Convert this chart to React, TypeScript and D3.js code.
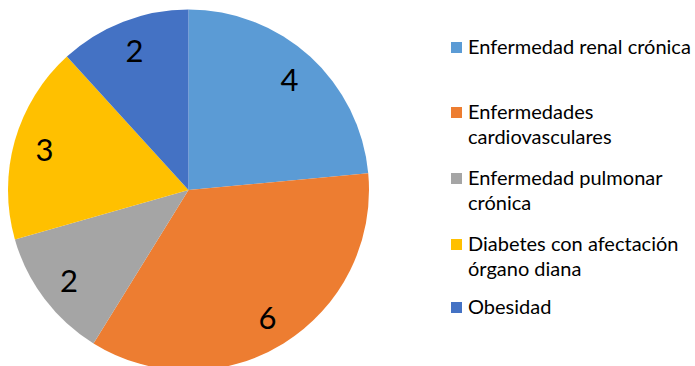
import React from "react";
import * as d3 from "d3";

const categories = [
  "Enfermedad renal crónica",
  "Enfermedades cardiovasculares",
  "Enfermedad pulmonar crónica",
  "Diabetes con afectación órgano diana",
  "Obesidad",
];
const values = [4, 6, 2, 3, 2];
const legendLines = [
  ["Enfermedad renal crónica"],
  ["Enfermedades", "cardiovasculares"],
  ["Enfermedad pulmonar", "crónica"],
  ["Diabetes con afectación", "órgano diana"],
  ["Obesidad"],
];
const colors = ["#5B9BD5", "#ED7D31", "#A5A5A5", "#FFC000", "#4472C4"];

const W = 695;
const H = 366;
const cx = 188.5;
const cy = 190;
const R = 180.5;
const legendBaselines = [54, 119, 185, 251, 314];
const FONT = "Lato, 'Open Sans', sans-serif";

export default function App() {
  const pie = d3.pie<number>().sort(null).value((d) => d)(values);
  const arc = d3.arc<d3.PieArcDatum<number>>().innerRadius(0).outerRadius(R);
  const labelArc = d3
    .arc<d3.PieArcDatum<number>>()
    .innerRadius(R * 0.83)
    .outerRadius(R * 0.83);

  return (
    <svg
      width={W}
      height={H}
      style={{ position: "absolute", left: 0, top: 0, background: "#fff" }}
    >
      <g transform={`translate(${cx},${cy})`}>
        {pie.map((d, i) => (
          <path key={i} d={arc(d) || ""} fill={colors[i]} />
        ))}
        {pie.map((d, i) => {
          const [x, y] = labelArc.centroid(d);
          return (
            <text
              key={"l" + i}
              x={x}
              y={y}
              textAnchor="middle"
              dominantBaseline="central"
              fontFamily={FONT}
              fontSize={31}
              fill="#000"
            >
              {values[i]}
            </text>
          );
        })}
      </g>
      {categories.map((c, i) => (
        <g key={c}>
          <rect
            x={451}
            y={legendBaselines[i] - 12}
            width={11}
            height={11}
            fill={colors[i]}
          />
          <text
            x={468}
            y={legendBaselines[i]}
            fontFamily={FONT}
            fontSize={20}
            fill="#000"
          >
            {legendLines[i].map((ln, j) => (
              <tspan key={j} x={468} dy={j === 0 ? 0 : 24.5}>
                {ln}
              </tspan>
            ))}
          </text>
        </g>
      ))}
    </svg>
  );
}
